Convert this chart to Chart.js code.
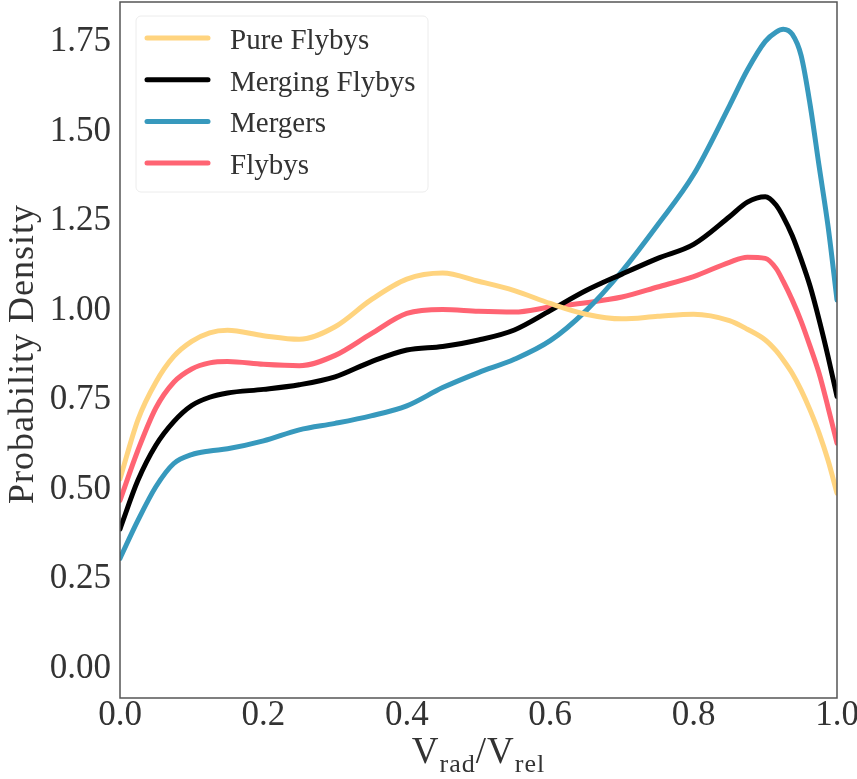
<!DOCTYPE html>
<html>
<head>
<meta charset="utf-8">
<script src="https://cdn.jsdelivr.net/npm/chart.js@4.4.1/dist/chart.umd.min.js"></script>
<style>
  html, body { margin: 0; padding: 0; background: #fff; }
  canvas { display: block; }
</style>
</head>
<body>
<canvas id="c" width="857" height="779"></canvas>
<script>
// Sample positions along Vrad/Vrel
const vRatio = [0, 0.025, 0.05, 0.075, 0.1, 0.125, 0.15, 0.2, 0.25, 0.3, 0.35, 0.4, 0.45, 0.5,
  0.55, 0.6, 0.65, 0.7, 0.75, 0.8, 0.85, 0.875, 0.9, 0.915, 0.925, 0.9375, 0.95, 0.9625, 0.975, 0.9875, 1.0];

// Probability density of each population
const pureFlybys = [0.53, 0.695, 0.80, 0.872, 0.914, 0.938, 0.945, 0.93, 0.92, 0.955, 1.03, 1.088, 1.105, 1.082,
  1.056, 1.02, 0.99, 0.977, 0.984, 0.99, 0.972, 0.948, 0.918, 0.888, 0.862, 0.825, 0.778, 0.722, 0.658, 0.582, 0.49];
const mergingFlybys = [0.39, 0.526, 0.624, 0.69, 0.735, 0.758, 0.77, 0.78, 0.793, 0.815, 0.857, 0.89, 0.9, 0.918,
  0.946, 1.0, 1.056, 1.102, 1.146, 1.185, 1.262, 1.303, 1.318, 1.295, 1.262, 1.21, 1.143, 1.068, 0.975, 0.872, 0.76];
const mergers = [0.308, 0.414, 0.508, 0.573, 0.598, 0.608, 0.614, 0.636, 0.667, 0.685, 0.706, 0.734, 0.785, 0.827,
  0.864, 0.916, 1.0, 1.11, 1.24, 1.38, 1.572, 1.672, 1.752, 1.778, 1.786, 1.772, 1.712, 1.575, 1.404, 1.236, 1.03];
const flybys = [0.47, 0.61, 0.728, 0.8, 0.837, 0.854, 0.858, 0.85, 0.846, 0.875, 0.935, 0.992, 1.003, 0.998,
  0.996, 1.01, 1.022, 1.038, 1.066, 1.095, 1.135, 1.149, 1.146, 1.118, 1.082, 1.03, 0.97, 0.90, 0.825, 0.73, 0.63];

const seriesNames = ['Pure Flybys', 'Merging Flybys', 'Mergers', 'Flybys'];
const seriesColors = ['#FFD47F', '#000000', '#3799BD', '#FF6473'];
const seriesValues = [pureFlybys, mergingFlybys, mergers, flybys];

// Tick labels
const xTicks = [0, 0.2, 0.4, 0.6, 0.8, 1.0];
const yTicks = [0, 0.25, 0.5, 0.75, 1.0, 1.25, 1.5, 1.75];

const SERIF = "'Liberation Serif', 'Times New Roman', serif";
const TEXT = '#333333';

const datasets = seriesNames.map((name, i) => ({
  label: name,
  data: vRatio.map((x, j) => ({ x: x, y: seriesValues[i][j] })),
  borderColor: seriesColors[i],
  backgroundColor: seriesColors[i],
  borderWidth: 5,
  borderCapStyle: 'round',
  borderJoinStyle: 'round',
  pointRadius: 0,
  cubicInterpolationMode: 'monotone',
  fill: false
}));

// Frame around the plotting area
const framePlugin = {
  id: 'frame',
  afterDatasetsDraw(chart) {
    const { ctx, chartArea: a } = chart;
    ctx.save();
    ctx.strokeStyle = '#555555';
    ctx.lineWidth = 1.5;
    ctx.strokeRect(a.left, a.top, a.right - a.left, a.bottom - a.top);
    ctx.restore();
  }
};

// Legend box in the upper left of the plot
const legendPlugin = {
  id: 'boxLegend',
  afterDatasetsDraw(chart) {
    const ctx = chart.ctx;
    const bx = 136, by = 16, bw = 292, bh = 176, r = 5;
    ctx.save();
    ctx.beginPath();
    ctx.roundRect(bx, by, bw, bh, r);
    ctx.fillStyle = 'rgba(255,255,255,0.85)';
    ctx.fill();
    ctx.strokeStyle = '#ececec';
    ctx.lineWidth = 1;
    ctx.stroke();
    chart.data.datasets.forEach((ds, i) => {
      const y = 38 + i * 41.7;
      ctx.beginPath();
      ctx.moveTo(147, y);
      ctx.lineTo(208, y);
      ctx.strokeStyle = ds.borderColor;
      ctx.lineWidth = 5;
      ctx.lineCap = 'round';
      ctx.stroke();
      ctx.fillStyle = TEXT;
      ctx.font = '29px ' + SERIF;
      ctx.textAlign = 'left';
      ctx.textBaseline = 'alphabetic';
      ctx.fillText(ds.label, 230, y + 11);
    });
    ctx.restore();
  }
};

// Axis titles, with subscripts on the x title
const titlesPlugin = {
  id: 'axisTitles',
  afterDraw(chart) {
    const { ctx, chartArea: a } = chart;
    ctx.save();
    ctx.fillStyle = TEXT;
    ctx.textBaseline = 'alphabetic';

    // y title
    ctx.save();
    ctx.translate(33, (a.top + a.bottom) / 2 + 4);
    ctx.rotate(-Math.PI / 2);
    ctx.font = '36px ' + SERIF;
    ctx.letterSpacing = '1px';
    ctx.textAlign = 'center';
    ctx.fillText('Probability Density', 0, 0);
    ctx.restore();

    // x title: V_rad / V_rel
    const parts = [
      { t: 'V', size: 37, dy: 0 },
      { t: 'rad', size: 26, dy: 9 },
      { t: '/', size: 37, dy: 0 },
      { t: 'V', size: 37, dy: 0 },
      { t: 'rel', size: 26, dy: 9 }
    ];
    ctx.letterSpacing = '1px';
    let total = 0;
    parts.forEach(p => {
      ctx.font = p.size + 'px ' + SERIF;
      p.w = ctx.measureText(p.t).width;
      total += p.w;
    });
    let x = (a.left + a.right) / 2 - total / 2;
    const base = 763;
    ctx.textAlign = 'left';
    parts.forEach(p => {
      ctx.font = p.size + 'px ' + SERIF;
      ctx.fillText(p.t, x, base + p.dy);
      x += p.w;
    });
    ctx.restore();
  }
};

new Chart(document.getElementById('c'), {
  type: 'line',
  data: { datasets },
  plugins: [framePlugin, legendPlugin, titlesPlugin],
  options: {
    responsive: false,
    devicePixelRatio: 1,
    animation: false,
    layout: { padding: { left: 0, right: 20, top: 2, bottom: 0 } },
    plugins: {
      legend: { display: false },
      tooltip: { enabled: false }
    },
    scales: {
      x: {
        type: 'linear',
        min: 0,
        max: 1,
        afterBuildTicks(scale) { scale.ticks = xTicks.map(v => ({ value: v })); },
        afterFit(scale) { scale.height = 81; scale.paddingLeft = 0; scale.paddingRight = 0; },
        grid: { display: false, drawTicks: false },
        border: { display: false },
        ticks: {
          padding: 0,
          color: TEXT,
          font: { family: SERIF, size: 35, lineHeight: 1 },
          maxRotation: 0,
          autoSkip: false,
          callback: v => Number(v).toFixed(1)
        }
      },
      y: {
        type: 'linear',
        min: -0.082,
        max: 1.862,
        afterBuildTicks(scale) { scale.ticks = yTicks.map(v => ({ value: v })); },
        afterFit(scale) { scale.width = 120; scale.paddingTop = 0; scale.paddingBottom = 0; },
        grid: { display: false, drawTicks: false },
        border: { display: false },
        ticks: {
          padding: 9,
          color: TEXT,
          font: { family: SERIF, size: 35, lineHeight: 1 },
          autoSkip: false,
          callback: v => Number(v).toFixed(2)
        }
      }
    }
  }
});
</script>
</body>
</html>
